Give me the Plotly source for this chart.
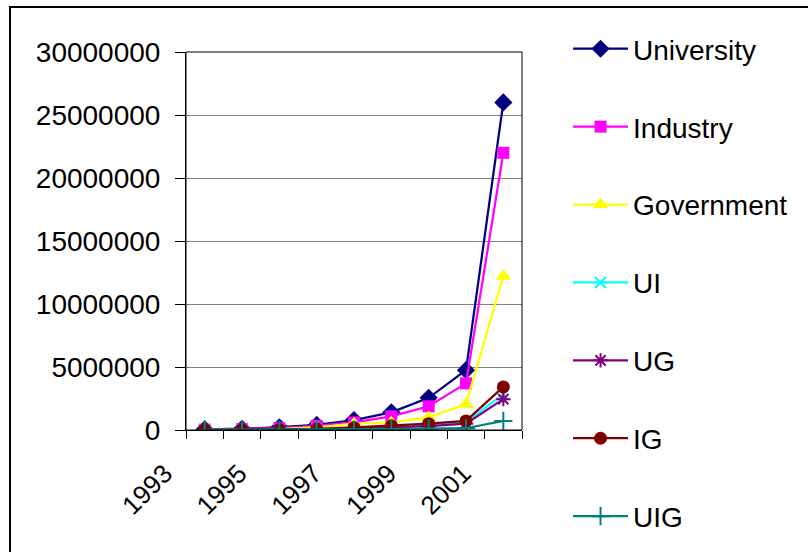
import plotly.graph_objects as go

years = [1993, 1994, 1995, 1996, 1997, 1998, 1999, 2000, 2001]
university = [50000, 100000, 220000, 400000, 790000, 1400000, 2550000, 4750000, 26000000]
industry = [30000, 60000, 150000, 330000, 600000, 1080000, 1880000, 3700000, 22000000]
government = [10000, 30000, 80000, 200000, 500000, 600000, 1000000, 2050000, 12200000]
ui = [5000, 10000, 30000, 60000, 120000, 220000, 380000, 600000, 2850000]
ug = [5000, 10000, 25000, 50000, 100000, 180000, 300000, 500000, 2450000]
ig = [10000, 20000, 40000, 80000, 200000, 340000, 500000, 720000, 3420000]
uig = [2000, 5000, 10000, 20000, 40000, 70000, 100000, 140000, 720000]

y_ticks = [0, 5000000, 10000000, 15000000, 20000000, 25000000, 30000000]
x_labels = [1993, 1995, 1997, 1999, 2001]

series = [
    ("University", university, "#000080", "diamond", 14),
    ("Industry", industry, "#FF00FF", "square", 12),
    ("Government", government, "#FFFF00", "triangle-up", 14),
    ("UI", ui, "#00FFFF", "x-thin-open", 11),
    ("UG", ug, "#800080", "asterisk-open", 12),
    ("IG", ig, "#800000", "circle", 13),
    ("UIG", uig, "#008080", "cross-thin-open", 13),
]

fig = go.Figure()
for name, vals, color, sym, size in series:
    fig.add_trace(go.Scatter(
        x=years, y=vals, name=name, mode="lines+markers",
        legendgroup=name,
        line=dict(color=color, width=2.25),
        marker=dict(symbol=sym, size=size, color=color,
                    line=dict(color=color, width=2 if "open" in sym else 0)),
    ))

fig.update_layout(
    width=808, height=552,
    margin=dict(l=186, r=286, t=52, b=122),
    paper_bgcolor="white", plot_bgcolor="white",
    font=dict(family="Liberation Sans, Arial, sans-serif", size=26, color="black"),
    showlegend=True,
    legend=dict(x=1.137, y=1.074, xanchor="left", yanchor="top",
                xref="paper", yref="paper",
                font=dict(size=28), itemwidth=55, tracegroupgap=38.5,
                maxheight=700,
                bgcolor="rgba(0,0,0,0)"),
    xaxis=dict(
        range=[1992.5, 2001.5], tickmode="array", tickvals=x_labels,
        ticktext=[str(v) for v in x_labels], tickangle=-45,
        ticks="", showgrid=False, zeroline=False,
        showline=True, linecolor="black", linewidth=1,
        ticklabelshift=-40, ticklabelstandoff=17,
        minor=dict(tickmode="array",
                   tickvals=[y - 0.5 for y in years] + [years[-1] + 0.5],
                   ticks="outside", ticklen=8, tickcolor="black", showgrid=False),
        tickfont=dict(size=26),
    ),
    yaxis=dict(
        range=[0, 30000000], tickmode="array", tickvals=y_ticks,
        ticktext=[str(v) for v in y_ticks],
        ticks="outside", ticklen=10, tickcolor="black",
        ticklabelstandoff=9,
        showgrid=True, gridcolor="#808080", gridwidth=1,
        zeroline=False, showline=True, linecolor="black", linewidth=1,
        tickfont=dict(size=28),
    ),
    shapes=[
        dict(type="rect", xref="paper", yref="paper", x0=0, x1=1, y0=0, y1=1,
             line=dict(color="black", width=1), layer="above"),
        dict(type="rect", xref="paper", yref="paper",
             x0=-0.5238, x1=1.87, y0=-0.34, y1=1.119,
             line=dict(color="black", width=2)),
    ],
)

fig.write_html(
    "out.html",
    config={"displayModeBar": False},
    post_script="document.body.style.margin='0px';document.body.style.overflow='hidden';",
)
